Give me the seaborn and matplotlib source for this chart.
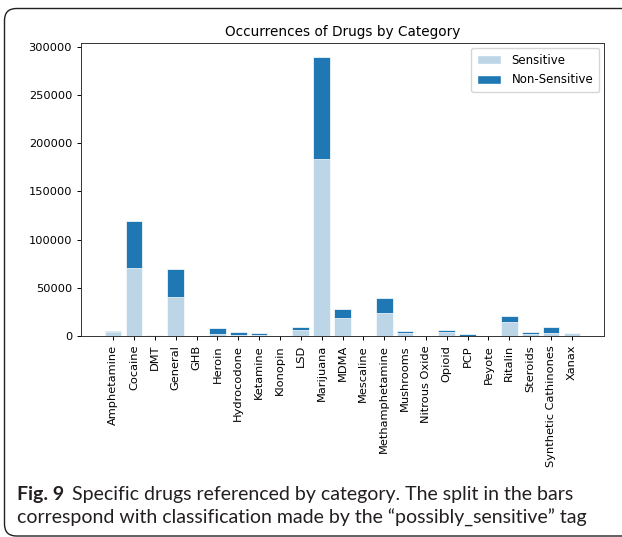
import matplotlib
matplotlib.use("Agg")
import matplotlib.pyplot as plt
from matplotlib.patches import Patch, PathPatch
from matplotlib.path import Path
from matplotlib.transforms import IdentityTransform
import seaborn as sns
import pandas as pd

# Drug categories and tweet counts split by the "possibly_sensitive" flag
categories = ["Amphetamine", "Cocaine", "DMT", "General", "GHB", "Heroin",
              "Hydrocodone", "Ketamine", "Klonopin", "LSD", "Marijuana", "MDMA",
              "Mescaline", "Methamphetamine", "Mushrooms", "Nitrous Oxide",
              "Opioid", "PCP", "Peyote", "Ritalin", "Steroids",
              "Synthetic Cathinones", "Xanax"]
sensitive = [3800, 70500, 600, 40000, 150, 2500, 1500, 1500, 200, 6500,
             184000, 19000, 150, 24000, 3500, 150, 3800, 500, 150, 14500,
             2200, 2800, 2600]
non_sensitive = [1500, 49000, 500, 29800, 100, 6000, 2500, 1300, 150, 3100,
                 105500, 8600, 100, 15000, 1700, 100, 2200, 1500, 100, 6500,
                 1600, 6800, 500]

df = pd.DataFrame({"category": categories,
                   "sensitive": sensitive,
                   "non_sensitive": non_sensitive})
df["total"] = df["sensitive"] + df["non_sensitive"]

W, H = 622, 537
fig = plt.figure(figsize=(W / 100, H / 100), dpi=100)
fig.patch.set_facecolor("white")

# Open rounded frame around the figure panel (pixel coordinates, origin bottom-left)
L, T, B, R, rad = 4.5, 528.5, 1.0, 621.0, 12.0
verts = [(R + 20, T), (L + rad, T), (L, T), (L, T - rad),
         (L, B + rad), (L, B), (L + rad, B), (R + 20, B)]
codes = [Path.MOVETO, Path.LINETO, Path.CURVE3, Path.CURVE3,
         Path.LINETO, Path.CURVE3, Path.CURVE3, Path.LINETO]
frame = PathPatch(Path(verts, codes), transform=IdentityTransform(),
                  fill=False, edgecolor="#231f20", linewidth=1.0)
fig.patches.append(frame)

ax = fig.add_axes([81 / W, 1 - 336 / H, (604 - 81) / W, (336 - 43) / H])

dark = "#1f77b4"
light = "#bcd6e8"
sns.barplot(data=df, x="category", y="total", color=dark, ax=ax,
            width=0.8, edgecolor="white", linewidth=0.5, saturation=1)
sns.barplot(data=df, x="category", y="sensitive", color=light, ax=ax,
            width=0.8, edgecolor="white", linewidth=0.5, saturation=1)

n = len(df)
ax.set_xlim(-0.4 - 0.05 * (n - 0.2), n - 0.6 + 0.05 * (n - 0.2))
ax.set_ylim(0, df["total"].max() * 1.05)
ax.set_xlabel("")
ax.set_ylabel("")
ax.set_title("Occurrences of Drugs by Category", fontsize=9.8, pad=5)
ax.tick_params(axis="x", rotation=90, labelsize=8.2, length=2.9, width=0.7)
ax.tick_params(axis="y", labelsize=8.2, length=2.9, width=0.7)
ax.ticklabel_format(axis="y", style="plain")
for s in ax.spines.values():
    s.set_linewidth(0.7)
    s.set_color("#333333")

handles = [Patch(facecolor=light, edgecolor="white", label="Sensitive"),
           Patch(facecolor=dark, edgecolor="white", label="Non-Sensitive")]
ax.legend(handles=handles, loc="upper right", fontsize=8.5, handlelength=2.0,
          handleheight=0.8, labelspacing=0.55, handletextpad=0.9,
          borderaxespad=0.4, borderpad=0.5)

# Caption below the chart
cap_font = "Lato"
cap_size = 14.0
txt_color = "#231f20"
x0 = 17 / W
t1 = fig.text(x0, 1 - 500 / H, "Fig. 9", fontsize=cap_size, fontweight="bold",
              family=cap_font, color=txt_color, va="baseline")
fig.canvas.draw()
r = fig.canvas.get_renderer()
bb = t1.get_window_extent(r)
fig.text((bb.x1 + 8) / W, 1 - 500 / H,
         "Specific drugs referenced by category. The split in the bars",
         fontsize=cap_size, family=cap_font, color=txt_color, va="baseline")
fig.text(x0, 1 - 524 / H,
         "correspond with classification made by the \u201cpossibly_sensitive\u201d tag",
         fontsize=cap_size, family=cap_font, color=txt_color, va="baseline")

fig.savefig("out.png", dpi=100)
